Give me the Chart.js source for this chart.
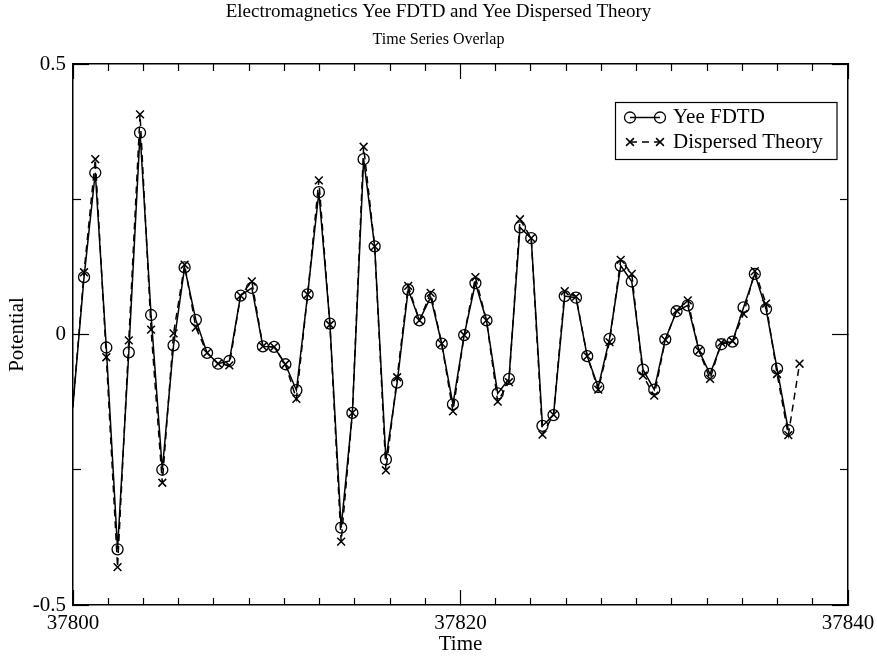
<!DOCTYPE html>
<html>
<head>
<meta charset="utf-8">
<title>Electromagnetics Yee FDTD and Yee Dispersed Theory</title>
<script src="https://cdn.jsdelivr.net/npm/chart.js@4"></script>
<style>
  html, body { margin: 0; padding: 0; background: #fff; }
  canvas { display: block; background: #fff; }
</style>
</head>
<body>
<canvas id="chart" width="877" height="657"></canvas>
<script>
// sample times (first one sits just left of the axis and is clipped)
const times = [
  37799.99, 37800.57, 37801.15, 37801.72, 37802.30, 37802.88, 37803.46, 37804.03, 37804.61, 37805.19,
  37805.76, 37806.34, 37806.92, 37807.49, 37808.07, 37808.65, 37809.23, 37809.80, 37810.38, 37810.96,
  37811.53, 37812.11, 37812.69, 37813.26, 37813.84, 37814.42, 37815.00, 37815.57, 37816.15, 37816.73,
  37817.30, 37817.88, 37818.46, 37819.03, 37819.61, 37820.19, 37820.77, 37821.34, 37821.92, 37822.50,
  37823.07, 37823.65, 37824.23, 37824.80, 37825.38, 37825.96, 37826.54, 37827.11, 37827.69, 37828.27,
  37828.84, 37829.42, 37830.00, 37830.57, 37831.15, 37831.73, 37832.31, 37832.88, 37833.46, 37834.04,
  37834.61, 37835.19, 37835.77, 37836.34, 37836.92, 37837.50
];

const yeeFdtd = [
  -0.135, 0.106, 0.299, -0.024, -0.397, -0.033, 0.373, 0.036, -0.250, -0.020,
  0.124, 0.027, -0.034, -0.054, -0.049, 0.072, 0.086, -0.022, -0.023, -0.055,
  -0.103, 0.074, 0.263, 0.020, -0.357, -0.145, 0.324, 0.163, -0.231, -0.089,
  0.083, 0.026, 0.069, -0.017, -0.129, -0.001, 0.095, 0.026, -0.109, -0.082,
  0.198, 0.178, -0.169, -0.149, 0.071, 0.068, -0.040, -0.097, -0.008, 0.127,
  0.098, -0.065, -0.102, -0.009, 0.043, 0.054, -0.030, -0.073, -0.018, -0.013,
  0.050, 0.112, 0.047, -0.063, -0.177
];

const dispersedTheory = [
  -0.135, 0.115, 0.324, -0.042, -0.430, -0.011, 0.407, 0.009, -0.274, 0.002,
  0.129, 0.013, -0.034, -0.054, -0.057, 0.072, 0.098, -0.022, -0.023, -0.055,
  -0.119, 0.074, 0.285, 0.018, -0.383, -0.145, 0.347, 0.163, -0.251, -0.079,
  0.090, 0.026, 0.077, -0.017, -0.142, -0.001, 0.106, 0.026, -0.124, -0.088,
  0.213, 0.178, -0.185, -0.148, 0.080, 0.070, -0.040, -0.102, -0.014, 0.138,
  0.112, -0.076, -0.113, -0.010, 0.044, 0.063, -0.030, -0.082, -0.015, -0.012,
  0.038, 0.117, 0.057, -0.073, -0.186, -0.054
];

const xMajorTicks = [37800, 37820, 37840];
const yMajorTicks = [-0.5, 0, 0.5];
const yMinorTicks = [-0.25, 0.25];
const xMinorPerMajor = 11; // grace style: 10 minor ticks between labels

const xMinorTicks = [];
for (let i = 0; i < xMajorTicks.length - 1; i++) {
  const step = (xMajorTicks[i + 1] - xMajorTicks[i]) / xMinorPerMajor;
  for (let k = 1; k < xMinorPerMajor; k++) xMinorTicks.push(xMajorTicks[i] + k * step);
}

const FONT = "'Liberation Serif', 'Times New Roman', serif";
const X_MIN = 37800, X_MAX = 37840;

const pairs = vals => vals.map((v, i) => ({ x: times[i], y: v }));
const hideOutside = r => ctx => (ctx.raw && ctx.raw.x < X_MIN ? 0 : r);

// axis that only draws inward tick marks (plus optional border / labels)
function tickAxis(axis, position, tickVals, tickLen, size, weight, extra) {
  const horiz = axis === 'x';
  return Object.assign({
    type: 'linear',
    axis: axis,
    position: position,
    min: horiz ? X_MIN : -0.5,
    max: horiz ? X_MAX : 0.5,
    weight: weight,
    afterBuildTicks: scale => { scale.ticks = tickVals.map(v => ({ value: v })); },
    afterFit: scale => {
      if (horiz) scale.height = size; else scale.width = size;
      // labels may hang over the frame, don't let them shrink the plot
      scale.paddingLeft = scale.paddingRight = scale.paddingTop = scale.paddingBottom = 0;
    },
    border: { display: false },
    grid: {
      display: true, drawOnChartArea: false, drawTicks: true,
      tickLength: -tickLen, tickColor: '#000', tickWidth: 1.2
    },
    ticks: { display: false }
  }, extra || {});
}

const frame = { display: true, color: '#000', width: 1.5 };

// legend drawn like the original: box, sample line with two markers, label
const boxLegend = {
  id: 'boxLegend',
  afterDraw(chart) {
    const ctx = chart.ctx;
    const area = chart.chartArea;
    const right = area.right - 11;
    const left = 615.5, top = 102.5, bottom = 159.5;
    ctx.save();
    ctx.strokeStyle = '#000';
    ctx.lineWidth = 1.2;
    ctx.strokeRect(left, top, right - left, bottom - top);
    chart.data.datasets.forEach((ds, i) => {
      const y = 117.5 + i * 24.5;
      const x0 = 630, x1 = 660;
      ctx.strokeStyle = '#000';
      ctx.lineWidth = ds.borderWidth;
      ctx.setLineDash(ds.borderDash || []);
      ctx.beginPath();
      ctx.moveTo(x0, y);
      ctx.lineTo(x1, y);
      ctx.stroke();
      ctx.setLineDash([]);
      ctx.fillStyle = 'rgba(0,0,0,0)';
      ctx.lineWidth = ds.pointBorderWidth;
      const opts = { pointStyle: ds.pointStyle, radius: 5.5, borderWidth: ds.pointBorderWidth, rotation: 0 };
      Chart.helpers.drawPoint(ctx, opts, x0, y);
      Chart.helpers.drawPoint(ctx, opts, x1, y);
      ctx.fillStyle = '#000';
      ctx.font = '21px ' + FONT;
      ctx.textAlign = 'left';
      ctx.textBaseline = 'middle';
      ctx.fillText(ds.label, 673, y);
    });
    ctx.restore();
  }
};

Chart.defaults.font.family = FONT;
Chart.defaults.color = '#000';

new Chart(document.getElementById('chart'), {
  type: 'line',
  data: {
    datasets: [
      {
        label: 'Yee FDTD',
        data: pairs(yeeFdtd),
        borderColor: '#000',
        borderWidth: 1.5,
        tension: 0,
        pointStyle: 'circle',
        pointRadius: hideOutside(5.5),
        pointBorderWidth: 1.3,
        pointBorderColor: '#000',
        pointBackgroundColor: 'rgba(0,0,0,0)',
        xAxisID: 'x',
        yAxisID: 'y'
      },
      {
        label: 'Dispersed Theory',
        data: pairs(dispersedTheory),
        borderColor: '#000',
        borderWidth: 1.5,
        borderDash: [7, 5],
        tension: 0,
        pointStyle: 'crossRot',
        pointRadius: hideOutside(5.5),
        pointBorderWidth: 1.5,
        pointBorderColor: '#000',
        pointBackgroundColor: 'rgba(0,0,0,0)',
        xAxisID: 'x',
        yAxisID: 'y'
      }
    ]
  },
  options: {
    responsive: false,
    animation: false,
    events: [],
    layout: { padding: 0 },
    plugins: {
      legend: { display: false },
      tooltip: { enabled: false },
      title: {
        display: true,
        text: 'Electromagnetics Yee FDTD and Yee Dispersed Theory',
        color: '#000',
        font: { family: FONT, size: 19, weight: 'normal', lineHeight: 1.2 },
        padding: { top: 1, bottom: 1 }
      },
      subtitle: {
        display: true,
        text: 'Time Series Overlap',
        color: '#000',
        font: { family: FONT, size: 16, weight: 'normal', lineHeight: 1.2 },
        padding: { top: 5, bottom: 15 }
      }
    },
    scales: {
      x: tickAxis('x', 'bottom', xMajorTicks, 15, 52, 1, {
        border: frame,
        ticks: {
          display: true, padding: 21, maxRotation: 0, autoSkip: false,
          font: { family: FONT, size: 21 },
          callback: v => String(v)
        },
        title: {
          display: true, text: 'Time',
          font: { family: FONT, size: 21 },
          padding: { top: 0, bottom: 0 }
        }
      }),
      xMinor: tickAxis('x', 'bottom', xMinorTicks, 7, 0, 0),
      xTop: tickAxis('x', 'top', xMajorTicks, 15, 0, 1, { border: frame }),
      xTopMinor: tickAxis('x', 'top', xMinorTicks, 7, 0, 0),
      y: tickAxis('y', 'left', yMajorTicks, 16, 73, 1, {
        border: frame,
        ticks: {
          display: true, padding: 23, autoSkip: false,
          font: { family: FONT, size: 21 },
          callback: v => String(v)
        },
        title: {
          display: true, text: 'Potential',
          font: { family: FONT, size: 21 },
          padding: { top: 5, bottom: 0 }
        }
      }),
      yMinor: tickAxis('y', 'left', yMinorTicks, 8, 0, 0),
      yRight: tickAxis('y', 'right', yMajorTicks, 16, 29, 1, { border: frame }),
      yRightMinor: tickAxis('y', 'right', yMinorTicks, 8, 0, 0)
    }
  },
  plugins: [boxLegend]
});
</script>
</body>
</html>
